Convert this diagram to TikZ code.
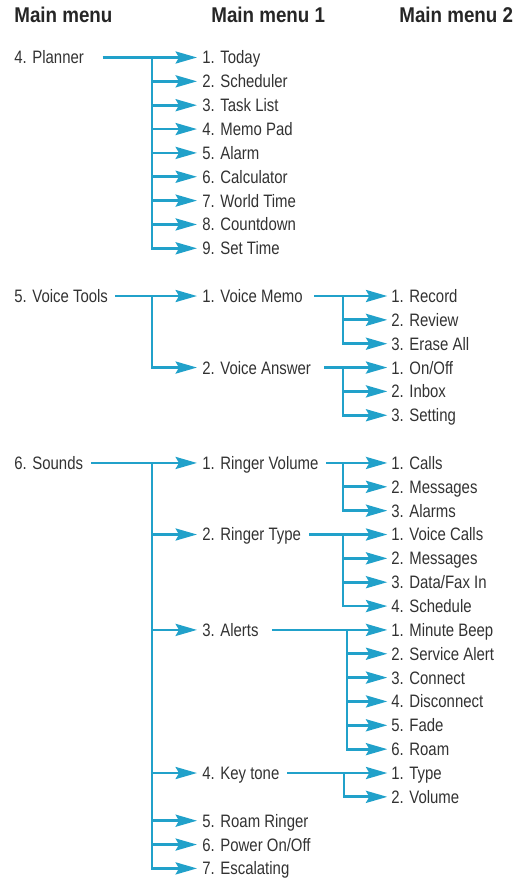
\documentclass[tikz,border=0pt]{standalone}
\usepackage{fontspec}
\setmainfont[FakeStretch=0.83]{Liberation Sans}
\newfontfamily\headfont[FakeStretch=0.88]{Liberation Sans}
\usetikzlibrary{arrows.meta}
\definecolor{menublue}{RGB}{33,161,202}
\definecolor{menugray}{RGB}{50,50,50}
\newcommand{\rowy}[1]{57.5+23.85*(#1)}

\begin{document}
\begin{tikzpicture}[x=0.75pt,y=-0.75pt,line width=2.1pt,
  >={Stealth[length=16pt,width=9pt,inset=2.5pt]},
  item/.style={anchor=west,inner sep=0pt,text height=9.7pt,text depth=0pt,
    text=menugray,font=\fontsize{13.5}{16}\selectfont},
  head/.style={anchor=base west,inner sep=0pt,text=black!85,
    font=\headfont\bfseries\fontsize{16}{19}\selectfont},
  link/.style={->,draw=menublue}]
  \useasboundingbox (0,0) rectangle (521,883);
  % column heads
  \node[head] (head0) at (13,22) {Main menu};
  \node[head] (head1) at (210,22) {Main menu 1};
  \node[head] (head2) at (398,22) {Main menu 2};

  % 4. Planner
  \node[item] (planner) at (13,{\rowy{0}}) {4. Planner};
  \foreach \t [count=\i] in {Today,Scheduler,Task List,Memo Pad,Alarm,
      Calculator,World Time,Countdown,Set Time}
    \node[item] (pl\i) at (201,{\rowy{\i-1}}) {\i. \t};
  \coordinate (plx) at (152,0);
  \draw[link] ([xshift=13pt]planner.east) -- ([xshift=-3pt]pl1.west);
  \foreach \i in {2,...,8}
    \draw[link] (plx |- pl\i.west) -- ([xshift=-3pt]pl\i.west);
  \draw[link] (plx |- pl1.west) |- ([xshift=-3pt]pl9.west);

  % 5. Voice Tools
  \node[item] (tools) at (13,{\rowy{10}}) {5. Voice Tools};
  \node[item] (memo) at (201,{\rowy{10}}) {1. Voice Memo};
  \node[item] (answer) at (201,{\rowy{13}}) {2. Voice Answer};
  \foreach \t [count=\i] in {Record,Review,Erase All}
    \node[item] (memo\i) at (390,{\rowy{9+\i}}) {\i. \t};
  \foreach \t [count=\i] in {On/Off,Inbox,Setting}
    \node[item] (ans\i) at (390,{\rowy{12+\i}}) {\i. \t};
  \coordinate (vtx) at (152,0);
  \coordinate (vmx) at (343,0);
  \draw[link] ([xshift=4.5pt]tools.east) -- ([xshift=-3pt]memo.west);
  \draw[link] (vtx |- memo.west) |- ([xshift=-3pt]answer.west);
  \draw[link] ([xshift=7.5pt]memo.east) -- ([xshift=-2pt]memo1.west);
  \draw[link] (vmx |- memo2.west) -- ([xshift=-2pt]memo2.west);
  \draw[link] (vmx |- memo1.west) |- ([xshift=-2pt]memo3.west);
  \draw[link] ([xshift=9pt]answer.east) -- ([xshift=-2pt]ans1.west);
  \draw[link] (vmx |- ans2.west) -- ([xshift=-2pt]ans2.west);
  \draw[link] (vmx |- ans1.west) |- ([xshift=-2pt]ans3.west);

  % 6. Sounds
  \node[item] (sounds) at (13,{\rowy{17}}) {6. Sounds};
  \node[item] (rvol) at (201,{\rowy{17}}) {1. Ringer Volume};
  \node[item] (rtype) at (201,{\rowy{20}}) {2. Ringer Type};
  \node[item] (alerts) at (201,{\rowy{24}}) {3. Alerts};
  \node[item] (ktone) at (201,{\rowy{30}}) {4. Key tone};
  \node[item] (roam) at (201,{\rowy{32}}) {5. Roam Ringer};
  \node[item] (power) at (201,{\rowy{33}}) {6. Power On/Off};
  \node[item] (escal) at (201,{\rowy{34}}) {7. Escalating};
  \foreach \t [count=\i] in {Calls,Messages,Alarms}
    \node[item] (rv\i) at (390,{\rowy{16+\i}}) {\i. \t};
  \foreach \t [count=\i] in {Voice Calls,Messages,Data/Fax In,Schedule}
    \node[item] (rt\i) at (390,{\rowy{19+\i}}) {\i. \t};
  \foreach \t [count=\i] in {Minute Beep,Service Alert,Connect,Disconnect,
      Fade,Roam}
    \node[item] (al\i) at (390,{\rowy{23+\i}}) {\i. \t};
  \foreach \t [count=\i] in {Type,Volume}
    \node[item] (kt\i) at (390,{\rowy{29+\i}}) {\i. \t};
  \coordinate (sdx) at (152,0);
  \coordinate (rvx) at (343,0);
  \coordinate (alx) at (347,0);
  \coordinate (ktx) at (344,0);
  \draw[link] ([xshift=5pt]sounds.east) -- ([xshift=-3pt]rvol.west);
  \foreach \n in {rtype,alerts,ktone,roam,power}
    \draw[link] (sdx |- \n.west) -- ([xshift=-3pt]\n.west);
  \draw[link] (sdx |- rvol.west) |- ([xshift=-3pt]escal.west);
  % ringer volume
  \draw[link] ([xshift=5pt]rvol.east) -- ([xshift=-2pt]rv1.west);
  \draw[link] (rvx |- rv2.west) -- ([xshift=-2pt]rv2.west);
  \draw[link] (rvx |- rv1.west) |- ([xshift=-2pt]rv3.west);
  % ringer type
  \draw[link] ([xshift=5pt]rtype.east) -- ([xshift=-2pt]rt1.west);
  \foreach \i in {2,3}
    \draw[link] (rvx |- rt\i.west) -- ([xshift=-2pt]rt\i.west);
  \draw[link] (rvx |- rt1.west) |- ([xshift=-2pt]rt4.west);
  % alerts
  \draw[link] ([xshift=9pt]alerts.east) -- ([xshift=-2pt]al1.west);
  \foreach \i in {2,...,5}
    \draw[link] (alx |- al\i.west) -- ([xshift=-2pt]al\i.west);
  \draw[link] (alx |- al1.west) |- ([xshift=-2pt]al6.west);
  % key tone
  \draw[link] ([xshift=5pt]ktone.east) -- ([xshift=-2pt]kt1.west);
  \draw[link] (ktx |- kt1.west) |- ([xshift=-2pt]kt2.west);
\end{tikzpicture}
\end{document}
